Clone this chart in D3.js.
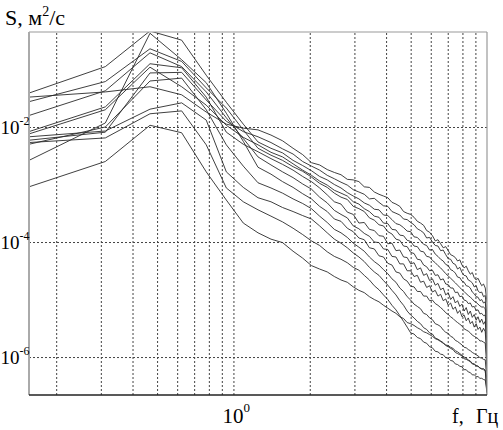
<!DOCTYPE html>
<html>
<meta charset="utf-8">
<style>
  body { margin: 0; background: #fff; }
  svg { width: 503px; height: 430px; display: block; }
  text { font-family: "Liberation Serif", "Times New Roman", serif; fill: #000; }
</style>
<body>
  <svg></svg>
</body>
<script src="https://d3js.org/d3.v7.min.js"></script>
<script>

  var margin = {top: 32, right: 16, bottom: 35, left: 29},
      width = 503 - margin.left - margin.right,
      height = 430 - margin.top - margin.bottom;

  // frequency grid of the spectra, step 0.15625 Hz (64 bins up to 10 Hz)
  var df = 0.15625;
  var freqs = d3.range(1, 65).map(function(k) { return k * df; });

  // log10 of S for each record, one value per frequency bin
  var logS1 = [-1.48, -1.39, -1.30, -1.44, -1.74, -1.95, -2.02, -2.05,
    -2.14, -2.24, -2.37, -2.48, -2.62, -2.66, -2.74, -2.79,
    -2.83, -2.91, -2.92, -2.95, -3.04, -3.05, -3.13, -3.17,
    -3.20, -3.23, -3.31, -3.34, -3.38, -3.47, -3.50, -3.52,
    -3.57, -3.64, -3.67, -3.71, -3.80, -3.83, -3.89, -3.98,
    -3.96, -4.03, -4.10, -4.08, -4.15, -4.22, -4.24, -4.27,
    -4.33, -4.31, -4.40, -4.45, -4.42, -4.50, -4.56, -4.53,
    -4.62, -4.66, -4.63, -4.70, -4.76, -4.73, -4.80, -5.05];
  var logS2 = [-2.23, -2.09, -1.06, -1.05, -1.53, -1.90, -2.08, -2.17,
    -2.27, -2.38, -2.47, -2.60, -2.68, -2.75, -2.84, -2.90,
    -2.96, -3.01, -3.09, -3.13, -3.17, -3.25, -3.24, -3.31,
    -3.37, -3.38, -3.47, -3.50, -3.53, -3.60, -3.61, -3.66,
    -3.70, -3.77, -3.80, -3.84, -3.93, -3.92, -4.00, -4.06,
    -4.07, -4.15, -4.14, -4.22, -4.29, -4.30, -4.37, -4.39,
    -4.47, -4.44, -4.53, -4.58, -4.59, -4.66, -4.68, -4.71,
    -4.78, -4.76, -4.85, -4.88, -4.87, -4.95, -4.93, -5.30];
  var logS3 = [-1.41, -0.95, -0.33, -0.49, -1.10, -1.57, -1.95, -2.26,
    -2.37, -2.45, -2.58, -2.67, -2.76, -2.86, -2.92, -3.00,
    -3.06, -3.14, -3.20, -3.25, -3.32, -3.36, -3.43, -3.44,
    -3.53, -3.54, -3.61, -3.68, -3.70, -3.75, -3.81, -3.82,
    -3.91, -3.92, -3.98, -4.04, -4.06, -4.14, -4.13, -4.21,
    -4.25, -4.30, -4.33, -4.39, -4.41, -4.48, -4.50, -4.54,
    -4.61, -4.62, -4.68, -4.70, -4.76, -4.77, -4.80, -4.87,
    -4.90, -4.95, -4.96, -5.02, -5.00, -5.06, -5.04, -5.45];
  var logS4 = [-2.12, -1.70, -0.96, -1.30, -1.62, -1.97, -2.18, -2.31,
    -2.44, -2.52, -2.64, -2.75, -2.84, -2.94, -3.01, -3.10,
    -3.15, -3.20, -3.30, -3.34, -3.42, -3.47, -3.55, -3.57,
    -3.67, -3.68, -3.78, -3.79, -3.88, -3.89, -3.97, -3.99,
    -4.07, -4.08, -4.16, -4.17, -4.25, -4.26, -4.32, -4.36,
    -4.41, -4.45, -4.50, -4.55, -4.59, -4.63, -4.67, -4.71,
    -4.75, -4.79, -4.83, -4.86, -4.90, -4.93, -4.96, -4.99,
    -5.03, -5.05, -5.08, -5.11, -5.13, -5.13, -5.16, -5.60];
  var logS5 = [-1.56, -1.21, -0.64, -0.86, -1.32, -1.67, -2.05, -2.37,
    -2.49, -2.58, -2.69, -2.77, -2.87, -2.98, -3.05, -3.15,
    -3.22, -3.26, -3.38, -3.42, -3.47, -3.58, -3.62, -3.70,
    -3.72, -3.82, -3.86, -3.95, -3.97, -4.07, -4.08, -4.18,
    -4.20, -4.30, -4.31, -4.40, -4.43, -4.50, -4.49, -4.58,
    -4.57, -4.66, -4.64, -4.73, -4.74, -4.80, -4.80, -4.88,
    -4.87, -4.95, -4.94, -5.01, -5.02, -5.07, -5.06, -5.13,
    -5.12, -5.19, -5.18, -5.25, -5.24, -5.28, -5.27, -5.80];
  var logS6 = [-2.08, -1.65, -0.90, -0.97, -1.48, -2.09, -2.30, -2.43,
    -2.55, -2.65, -2.75, -2.86, -2.95, -3.06, -3.18, -3.30,
    -3.34, -3.48, -3.52, -3.67, -3.66, -3.78, -3.80, -3.89,
    -3.90, -4.03, -4.02, -4.15, -4.14, -4.26, -4.27, -4.38,
    -4.36, -4.48, -4.45, -4.58, -4.55, -4.67, -4.64, -4.75,
    -4.72, -4.83, -4.80, -4.92, -4.88, -5.00, -4.95, -5.06,
    -5.02, -5.12, -5.08, -5.20, -5.14, -5.26, -5.20, -5.31,
    -5.26, -5.36, -5.30, -5.40, -5.34, -5.43, -5.38, -5.95];
  var logS7 = [-1.80, -1.37, -0.71, -0.95, -1.39, -1.84, -2.20, -2.52,
    -2.66, -2.78, -2.88, -2.99, -3.08, -3.22, -3.32, -3.45,
    -3.52, -3.58, -3.72, -3.77, -3.85, -3.90, -4.00, -4.01,
    -4.12, -4.13, -4.25, -4.26, -4.38, -4.38, -4.50, -4.50,
    -4.60, -4.58, -4.70, -4.68, -4.79, -4.76, -4.87, -4.84,
    -4.94, -4.91, -5.02, -4.99, -5.10, -5.06, -5.17, -5.13,
    -5.24, -5.19, -5.30, -5.27, -5.37, -5.32, -5.42, -5.38,
    -5.48, -5.42, -5.52, -5.48, -5.57, -5.50, -5.56, -6.10];
  var logS8 = [-2.58, -1.93, -0.37, -0.83, -1.23, -1.76, -2.25, -2.70,
    -2.82, -2.95, -3.05, -3.16, -3.25, -3.38, -3.47, -3.60,
    -3.64, -3.76, -3.82, -3.93, -3.96, -4.10, -4.12, -4.24,
    -4.26, -4.37, -4.40, -4.52, -4.54, -4.64, -4.68, -4.77,
    -4.78, -4.86, -4.86, -4.94, -4.94, -5.02, -5.01, -5.07,
    -5.10, -5.14, -5.18, -5.23, -5.26, -5.30, -5.33, -5.37,
    -5.40, -5.43, -5.46, -5.51, -5.53, -5.55, -5.58, -5.62,
    -5.64, -5.66, -5.68, -5.72, -5.72, -5.74, -5.76, -6.25];
  var logS9 = [-2.30, -2.00, -1.20, -1.15, -1.70, -2.31, -2.68, -2.97,
    -3.06, -3.15, -3.25, -3.33, -3.42, -3.55, -3.66, -3.78,
    -3.84, -3.92, -4.02, -4.09, -4.16, -4.26, -4.34, -4.40,
    -4.48, -4.55, -4.64, -4.70, -4.80, -4.86, -4.95, -5.01,
    -5.08, -5.12, -5.16, -5.24, -5.26, -5.32, -5.35, -5.42,
    -5.44, -5.47, -5.53, -5.57, -5.59, -5.64, -5.66, -5.71,
    -5.73, -5.76, -5.79, -5.83, -5.84, -5.87, -5.89, -5.92,
    -5.94, -5.96, -5.98, -6.01, -6.02, -6.04, -6.05, -6.45];
  var logS10 = [-2.17, -2.07, -1.69, -1.58, -1.88, -2.78, -3.05, -3.23,
    -3.30, -3.40, -3.47, -3.54, -3.60, -3.72, -3.84, -3.95,
    -4.02, -4.10, -4.19, -4.26, -4.34, -4.44, -4.52, -4.58,
    -4.67, -4.75, -4.84, -4.92, -5.02, -5.10, -5.20, -5.27,
    -5.32, -5.38, -5.42, -5.49, -5.52, -5.58, -5.60, -5.67,
    -5.69, -5.72, -5.75, -5.80, -5.82, -5.85, -5.87, -5.92,
    -5.94, -5.96, -5.98, -6.03, -6.04, -6.06, -6.08, -6.12,
    -6.13, -6.15, -6.16, -6.19, -6.20, -6.22, -6.24, -6.60];
  var logS11 = [-2.27, -2.19, -1.77, -1.72, -2.31, -3.06, -3.30, -3.44,
    -3.55, -3.65, -3.76, -3.87, -3.98, -4.06, -4.17, -4.25,
    -4.30, -4.36, -4.44, -4.49, -4.58, -4.66, -4.76, -4.83,
    -4.92, -5.00, -5.10, -5.18, -5.28, -5.38, -5.48, -5.58,
    -5.60, -5.66, -5.68, -5.74, -5.76, -5.82, -5.84, -5.90,
    -5.91, -5.95, -5.96, -6.01, -6.02, -6.06, -6.07, -6.12,
    -6.13, -6.16, -6.17, -6.22, -6.22, -6.26, -6.27, -6.31,
    -6.31, -6.34, -6.34, -6.37, -6.37, -6.39, -6.40, -6.62];
  var logS12 = [-3.04, -2.60, -1.97, -2.10, -2.78, -3.27, -3.67, -3.84,
    -3.95, -4.01, -4.16, -4.28, -4.41, -4.47, -4.52, -4.60,
    -4.66, -4.70, -4.78, -4.84, -4.88, -4.95, -5.00, -5.04,
    -5.10, -5.15, -5.20, -5.24, -5.30, -5.33, -5.40, -5.42,
    -5.45, -5.49, -5.52, -5.56, -5.58, -5.61, -5.64, -5.68,
    -5.70, -5.73, -5.76, -5.79, -5.80, -5.83, -5.85, -5.89,
    -5.91, -5.94, -5.97, -6.00, -6.02, -6.05, -6.07, -6.11,
    -6.12, -6.15, -6.16, -6.19, -6.21, -6.20, -6.23, -6.64];

  var records = [logS1, logS2, logS3, logS4, logS5, logS6,
                 logS7, logS8, logS9, logS10, logS11, logS12];

  // grid positions and labelled ticks
  var xGrid = [0.2, 0.3, 0.4, 0.5, 0.6, 0.7, 0.8, 0.9, 1, 2, 3, 4, 5, 6, 7, 8, 9];
  var xLabels = [1];
  var yGrid = [1e-2, 1e-4, 1e-6];

  var svg = d3.select("svg");
  var g = svg.append("g").attr("transform", "translate(" + margin.left + "," + margin.top + ")");

  var xScale = d3.scaleLog().domain([df, 10]).range([0, width]);
  var yScale = d3.scaleLog().domain([Math.pow(10, -6.66), Math.pow(10, -0.348)]).range([height, 0]);

  // dotted grid
  g.append("g")
    .attr("transform", "translate(0," + height + ")")
    .call(d3.axisBottom(xScale).tickValues(xGrid).tickSize(-height).tickFormat(""))
    .call(function(a) {
      a.select(".domain").remove();
      a.selectAll("line").attr("stroke", "#444").attr("stroke-dasharray", "2,2");
    });
  g.append("g")
    .call(d3.axisLeft(yScale).tickValues(yGrid).tickSize(-width).tickFormat(""))
    .call(function(a) {
      a.select(".domain").remove();
      a.selectAll("line").attr("stroke", "#444").attr("stroke-dasharray", "2,2");
    });

  // records
  g.append("clipPath").attr("id", "plot")
    .append("rect").attr("width", width).attr("height", height);

  var line = d3.line()
    .x(function(d, i) { return xScale(freqs[i]); })
    .y(function(d) { return yScale(Math.pow(10, d)); });

  g.append("g").attr("clip-path", "url(#plot)")
    .selectAll("path")
    .data(records)
    .enter().append("path")
    .attr("d", line)
    .attr("fill", "none")
    .attr("stroke", "#2a2a2a")
    .attr("stroke-width", 0.9);

  // frame
  g.append("line").attr("x1", 0).attr("x2", width).attr("y1", 0).attr("y2", 0)
    .attr("stroke", "#999").attr("stroke-width", 1.2);
  g.append("line").attr("x1", width).attr("x2", width).attr("y1", 0).attr("y2", height)
    .attr("stroke", "#999").attr("stroke-width", 1.2);
  g.append("line").attr("x1", 0).attr("x2", 0).attr("y1", 0).attr("y2", height)
    .attr("stroke", "#aaa").attr("stroke-width", 2);
  g.append("line").attr("x1", 0).attr("x2", width).attr("y1", height).attr("y2", height)
    .attr("stroke", "#222").attr("stroke-width", 1.5);

  // tick labels, 10 with a superscript exponent
  svg.selectAll(".ylab")
    .data(yGrid)
    .enter().append("text")
    .attr("class", "ylab")
    .attr("x", 0.5)
    .attr("y", function(d) { return margin.top + yScale(d) + 7; })
    .style("font-size", "19px")
    .each(function(d) {
      var t = d3.select(this);
      t.append("tspan").text("10");
      t.append("tspan").attr("dy", -9).style("font-size", "12px").text(Math.round(Math.log10(d)));
    });

  g.selectAll(".xlab")
    .data(xLabels)
    .enter().append("text")
    .attr("class", "xlab")
    .attr("x", function(d) { return xScale(d) - 11; })
    .attr("y", height + 28)
    .style("font-size", "21px")
    .each(function(d) {
      var t = d3.select(this);
      t.append("tspan").text("10");
      t.append("tspan").attr("dy", -11).style("font-size", "13px").text(Math.round(Math.log10(d)));
    });

  // axis titles
  var yTitle = svg.append("text").attr("x", 5).attr("y", 25).style("font-size", "22px");
  yTitle.append("tspan").text("S, м");
  yTitle.append("tspan").attr("dy", -9).style("font-size", "14px").text("2");
  yTitle.append("tspan").attr("dy", 9).text("/с");

  var xTitle = svg.append("text").attr("x", 452).attr("y", 423).style("font-size", "20px");
  xTitle.append("tspan").text("f,");
  xTitle.append("tspan").attr("x", 476).text("Гц");

</script>
</html>
